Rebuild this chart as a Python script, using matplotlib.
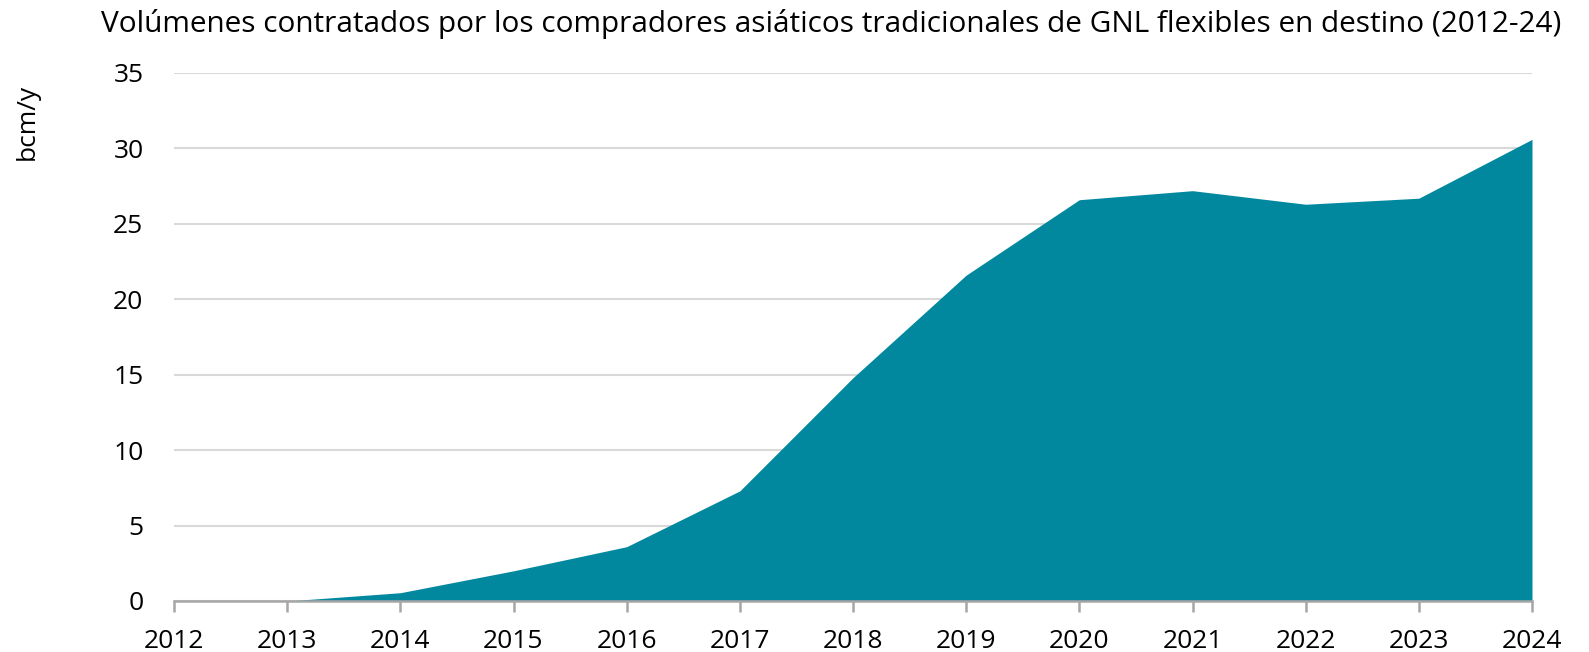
import matplotlib
matplotlib.use("Agg")
import matplotlib.pyplot as plt

years = [2012, 2013, 2014, 2015, 2016, 2017, 2018, 2019, 2020, 2021, 2022, 2023, 2024]
volumes = [0.0, 0.0, 0.55, 2.0, 3.6, 7.3, 14.8, 21.6, 26.6, 27.2, 26.3, 26.7, 30.6]
yticks = [0, 5, 10, 15, 20, 25, 30, 35]

title = "Volúmenes contratados por los compradores asiáticos tradicionales de GNL flexibles en destino (2012-24)"
ylabel = "bcm/y"

plt.rcParams['font.family'] = ['Open Sans', 'DejaVu Sans']

W, H = 1589, 652
fig = plt.figure(figsize=(W / 100, H / 100), dpi=100)
ax = fig.add_axes([174 / W, (H - 601) / H, (1532 - 174) / W, (601 - 73) / H])

ax.fill_between(years, volumes, 0, color='#02889E', linewidth=0, zorder=3)

ax.set_xlim(2012, 2024)
ax.set_ylim(0, 35)
ax.set_yticks(yticks)
ax.set_xticks(years)
ax.set_xticklabels([str(y) for y in years])
ax.grid(axis='y', color='#d9d9d9', linewidth=1.5, zorder=0)
ax.set_axisbelow(True)

for s in ['left', 'right', 'top']:
    ax.spines[s].set_visible(False)
ax.spines['bottom'].set_color('#a6a6a6')
ax.spines['bottom'].set_linewidth(1.8)
ax.spines['bottom'].set_zorder(4)

ax.tick_params(axis='x', direction='out', length=8, width=1.8, color='#a6a6a6',
               labelsize=19, pad=12)
ax.tick_params(axis='y', length=0, labelsize=19, pad=22)

fig.text(101 / W, 1 - 24 / H, title, fontsize=21.4, ha='left', va='center')
fig.text(27 / W, 1 - 122 / H, ylabel, fontsize=19, rotation=90, ha='center', va='center')

fig.savefig("out.png", dpi=100, facecolor='white')
